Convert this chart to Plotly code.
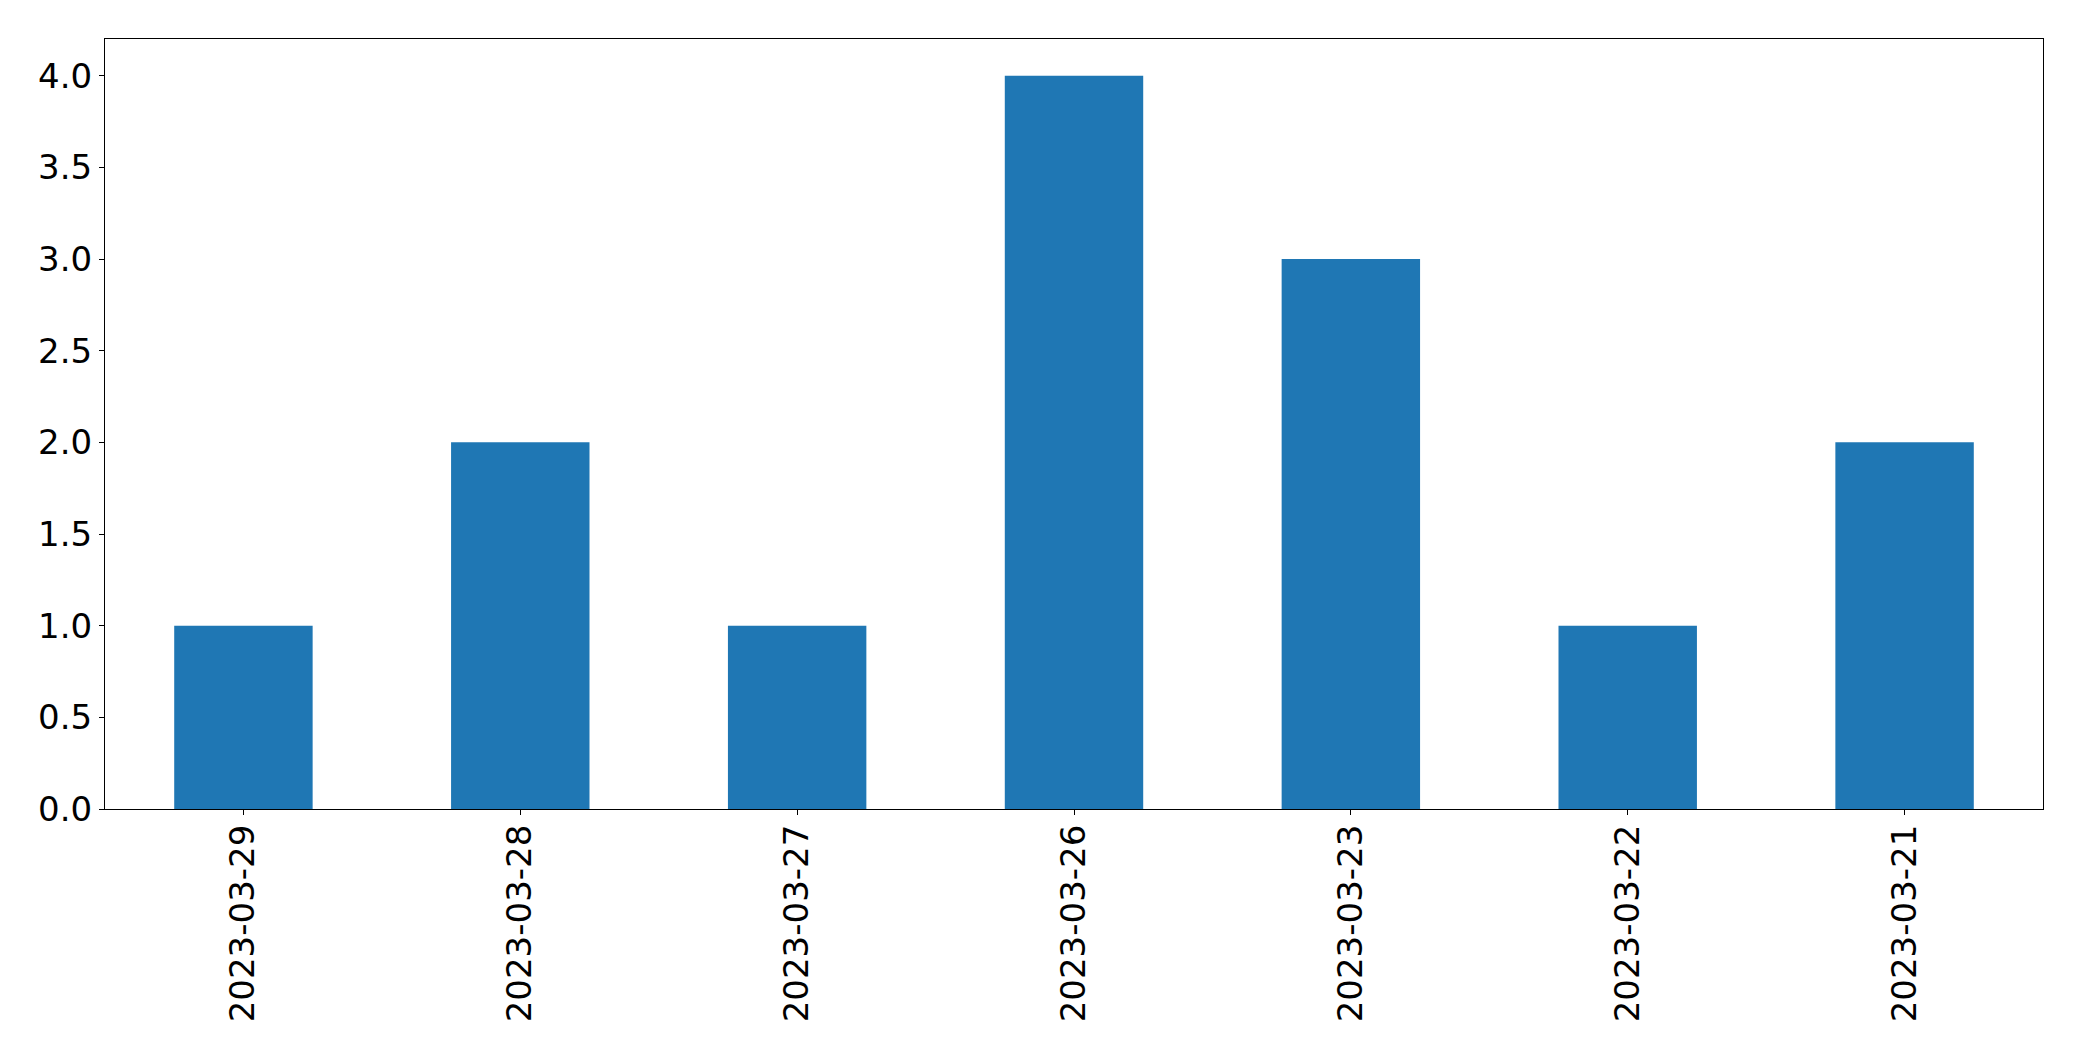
import plotly.graph_objects as go

dates = ["2023-03-29", "2023-03-28", "2023-03-27", "2023-03-26",
         "2023-03-23", "2023-03-22", "2023-03-21"]
counts = [1, 2, 1, 4, 3, 1, 2]
y_ticks = [0.0, 0.5, 1.0, 1.5, 2.0, 2.5, 3.0, 3.5, 4.0]

fig = go.Figure(go.Bar(x=dates, y=counts, marker_color="#1f77b4",
                       marker_line_width=0))

fig.update_layout(
    width=2082, height=1061,
    margin=dict(l=105, r=39, t=39, b=252, pad=0),
    paper_bgcolor="white", plot_bgcolor="white",
    bargap=0.5,
    showlegend=False,
    font=dict(family="DejaVu Sans", size=34, color="black"),
)
fig.update_xaxes(
    type="category", range=[-0.5, 6.5],
    showline=True, linecolor="black", linewidth=1.2, mirror=True,
    ticks="outside", ticklen=5, tickwidth=1.2, tickcolor="black",
    tickangle=-90, showgrid=False, zeroline=False,
    ticklabelstandoff=-4,
)
fig.update_yaxes(
    range=[0, 4.2], tickvals=y_ticks, ticktext=[f"{v:.1f}" for v in y_ticks],
    showline=True, linecolor="black", linewidth=1.2, mirror=True,
    ticks="outside", ticklen=5, tickwidth=1.2, tickcolor="black",
    showgrid=False, zeroline=False,
)

fig.write_html("out.html",
               config={"displayModeBar": False},
               post_script="document.body.style.margin='0';document.body.style.overflow='hidden';")
